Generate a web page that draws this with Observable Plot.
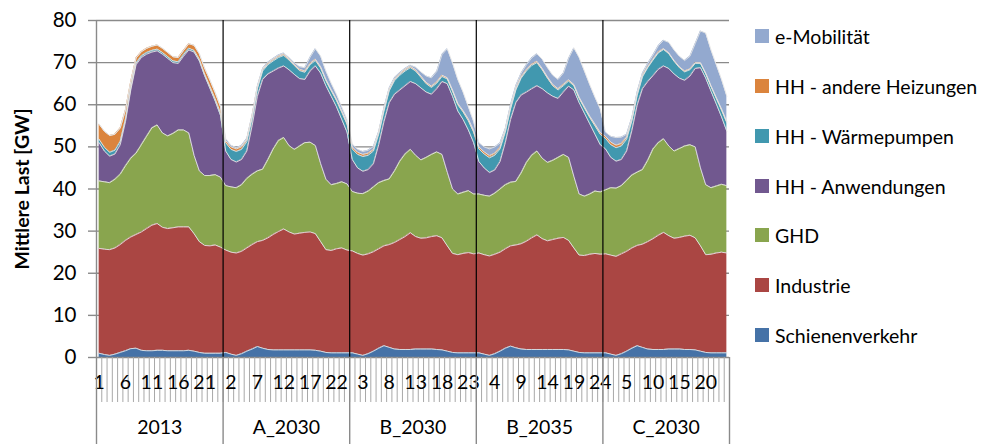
<!DOCTYPE html>
<html><head><meta charset="utf-8">
<script src="https://cdn.jsdelivr.net/npm/d3@7"></script>
<script src="https://cdn.jsdelivr.net/npm/@observablehq/plot@0.6"></script>
<style>
body{margin:0;background:#fff;}
#wrap{position:relative;width:996px;height:444px;font-family:Lato,"Open Sans",sans-serif;}
#legend{position:absolute;left:755px;top:0;width:241px;height:444px;}
.item{position:absolute;left:0;display:flex;align-items:center;font-size:19.5px;white-space:nowrap;color:#000;height:20px;}
.sw{width:14px;height:14px;margin-right:6px;flex:none;}
</style></head><body>
<div id="wrap"><div id="chart"></div><div id="legend"></div></div>
<script>
// Categories
const scenarios = ["2013", "A_2030", "B_2030", "B_2035", "C_2030"];
const hours = [1,2,3,4,5,6,7,8,9,10,11,12,13,14,15,16,17,18,19,20,21,22,23,24];
const seriesNames = ["Schienenverkehr", "Industrie", "GHD", "HH - Anwendungen", "HH - Wärmepumpen", "HH - andere Heizungen", "e-Mobilität"];
const seriesColors = ["#4572A7", "#AA4643", "#89A54E", "#71588F", "#4198AF", "#DB843D", "#93A9CF"];
const legendOrder = ["e-Mobilität", "HH - andere Heizungen", "HH - Wärmepumpen", "HH - Anwendungen", "GHD", "Industrie", "Schienenverkehr"];

// Tick labels (category index -> shown hour)
const xTickIndex = [1,6,11,16,21, 26,31,36,41,46, 51,56,61,66,71, 76,81,86,91,96, 101,106,111,116];
const xTickLabels = ["1","6","11","16","21", "2","7","12","17","22", "3","8","13","18","23", "4","9","14","19","24", "5","10","15","20"];
const yTicks = [0,10,20,30,40,50,60,70,80];

// Series values [GW], 24 hours per scenario: 2013 | A_2030 | B_2030 | B_2035 | C_2030
const schienen = [
 1.0,0.7,0.5,0.8,1.2,1.6,2.1,2.2,1.7,1.6,1.6,1.7,1.7,1.6,1.6,1.6,1.6,1.7,1.5,1.2,1.0,1.0,1.0,1.0,
 1.2,0.8,0.5,0.9,1.5,2.0,2.6,2.2,1.9,1.8,1.8,1.8,1.8,1.8,1.8,1.8,1.8,1.7,1.5,1.2,1.1,1.1,1.1,1.1,
 1.1,0.8,0.5,0.9,1.5,2.2,2.8,2.4,2.0,1.9,1.9,1.9,2.0,2.0,2.0,2.0,1.9,1.8,1.5,1.2,1.1,1.1,1.1,1.1,
 1.1,0.8,0.5,0.9,1.5,2.2,2.7,2.3,2.0,1.9,1.9,1.9,1.9,1.9,1.9,1.9,1.9,1.8,1.5,1.2,1.1,1.1,1.1,1.1,
 1.1,0.8,0.5,0.9,1.5,2.2,2.8,2.4,2.0,1.9,1.9,1.9,2.0,2.0,2.0,1.9,1.9,1.8,1.5,1.2,1.1,1.1,1.1,1.1
];
const industrie = [
 24.9,25.0,25.1,25.2,25.6,26.2,26.5,27.0,28.1,29.0,29.8,30.1,29.2,29.0,29.2,29.4,29.4,29.3,27.9,26.3,25.6,25.5,25.7,25.2,
 24.3,24.2,24.3,24.3,24.5,24.8,24.9,25.6,26.5,27.4,28.1,28.7,28.0,27.5,27.7,27.9,28.0,27.7,26.0,24.4,24.3,24.7,24.9,24.4,
 24.2,23.9,23.8,23.7,23.6,23.6,23.7,24.4,25.3,26.1,26.8,27.7,26.7,26.3,26.4,26.7,27.0,26.6,25.0,23.5,23.3,23.6,23.8,23.5,
 23.7,23.6,23.6,23.6,23.5,23.6,23.8,24.4,25.0,25.7,26.5,27.2,26.3,25.8,26.1,26.4,26.6,26.0,24.5,23.1,23.1,23.4,23.6,23.4,
 23.5,23.5,23.5,23.7,23.7,23.8,23.8,24.5,25.5,26.3,27.1,27.8,26.9,26.3,26.5,26.9,27.1,26.6,25.0,23.2,23.4,23.7,23.9,23.7
];
const ghd = [
 16.0,16.0,15.9,16.3,16.7,17.7,18.7,19.3,20.7,21.9,23.1,23.4,22.4,22.0,22.4,23.0,23.0,22.3,18.6,16.8,16.6,16.7,16.7,16.6,
 15.3,15.5,15.5,15.8,16.5,16.7,16.8,16.9,18.6,20.3,21.6,21.7,20.5,20.1,20.7,21.3,21.3,20.9,18.5,16.7,15.6,15.5,15.7,15.7,
 14.1,14.3,14.6,14.9,15.4,15.7,15.5,15.6,17.0,18.6,19.6,19.8,19.3,18.6,19.1,19.5,19.9,19.8,17.5,15.3,14.4,14.5,14.7,14.2,
 14.0,14.1,14.2,14.5,15.0,15.2,15.1,15.1,16.8,18.7,19.6,19.9,19.1,18.6,18.8,19.2,19.7,19.7,17.0,14.5,14.1,14.3,14.8,14.8,
 15.2,16.0,16.2,16.2,16.8,17.3,17.4,17.7,19.3,21.3,22.0,22.2,21.3,20.7,21.1,21.4,21.5,21.6,18.5,16.6,15.8,15.9,16.1,16.0
];
const hhAnwendungen = [
 9.1,7.3,6.3,6.0,7.0,10.5,16.2,21.0,20.7,19.5,18.0,17.6,18.7,18.4,16.8,15.8,17.5,19.7,24.5,26.1,23.7,20.7,17.5,14.7,
 8.2,6.5,6.1,6.0,6.5,11.5,17.7,21.3,20.3,18.5,17.2,17.0,18.0,17.8,16.0,15.0,16.9,18.9,21.5,22.2,21.0,18.2,14.8,12.3,
 7.6,6.0,5.3,5.1,5.5,9.0,14.0,18.1,18.2,16.9,16.2,16.1,17.0,17.1,15.5,14.3,15.0,17.3,21.0,22.0,19.7,17.3,14.4,12.2,
 7.7,6.5,5.6,5.5,6.5,10.0,14.9,18.7,18.5,16.7,15.8,15.5,16.5,16.5,15.2,14.0,14.8,16.9,20.5,21.7,19.7,16.7,13.5,11.2,
 9.7,7.2,6.4,6.2,7.0,10.6,15.9,19.2,18.7,17.4,17.4,17.3,18.4,18.3,16.7,15.6,16.3,18.6,23.8,25.3,22.9,19.5,16.0,12.9
];
const hhWaermepumpen = [
 0.8,0.9,0.9,0.9,0.8,0.6,0.5,0.4,0.4,0.4,0.4,0.4,0.4,0.4,0.4,0.4,0.4,0.4,0.4,0.4,0.4,0.5,0.5,0.6,
 2.0,2.4,2.5,2.4,2.2,1.8,1.8,2.0,2.2,2.4,2.5,2.5,2.3,2.1,1.9,1.7,1.5,1.3,1.2,1.2,1.3,1.5,1.7,1.9,
 2.5,3.2,3.5,3.4,3.0,2.5,2.5,2.8,3.2,3.5,3.5,3.3,3.0,2.5,2.0,1.6,1.3,1.2,1.1,1.2,1.5,1.8,2.2,2.5,
 3.0,3.3,3.5,3.5,3.0,2.5,2.5,3.0,4.0,5.0,5.5,5.5,4.5,3.5,2.5,2.0,1.5,1.2,1.0,1.0,1.2,1.5,2.0,2.5,
 2.5,3.0,3.2,3.2,2.8,2.3,2.3,2.8,3.3,3.7,3.9,3.9,3.5,3.0,2.5,2.0,1.5,1.2,1.0,1.0,1.1,1.3,1.6,2.0
];
const hhAndereHeizungen = [
 3.6,3.8,4.0,3.8,3.2,2.2,1.5,1.2,1.0,1.0,1.0,1.0,1.0,1.0,1.0,1.0,1.0,1.1,1.2,1.3,1.4,1.5,1.5,1.5,
 0.5,0.6,0.6,0.6,0.5,0.4,0.3,0.3,0.3,0.3,0.3,0.3,0.3,0.3,0.3,0.3,0.3,0.3,0.3,0.3,0.3,0.3,0.4,0.4,
 0.5,0.5,0.5,0.5,0.4,0.3,0.3,0.3,0.3,0.3,0.3,0.3,0.3,0.3,0.3,0.3,0.3,0.3,0.3,0.3,0.3,0.3,0.4,0.4,
 0.5,0.5,0.5,0.5,0.4,0.3,0.3,0.3,0.3,0.3,0.3,0.3,0.3,0.3,0.3,0.3,0.3,0.3,0.3,0.3,0.3,0.3,0.4,0.4,
 0.5,0.6,0.6,0.6,0.5,0.3,0.3,0.3,0.2,0.2,0.2,0.2,0.2,0.2,0.2,0.2,0.2,0.2,0.2,0.2,0.2,0.2,0.3,0.3
];
const eMobilitaet = [
 0,0,0,0,0,0,0,0,0,0,0,0,0,0,0,0,0,0,0,0,0,0,0,0,
 0.5,0.4,0.3,0.3,0.3,0.3,0.3,0.3,0.3,0.3,0.3,0.3,0.3,0.4,0.6,0.8,1.5,2.5,2.5,2.0,1.5,1.2,0.9,0.7,
 0.7,0.7,0.7,0.7,0.7,0.3,0.5,0.4,0.4,0.3,0.3,0.3,0.6,1.0,1.5,2.0,2.5,4.9,6.9,6.4,5.7,4.4,2.9,2.1,
 1.0,1.2,1.6,1.5,1.0,0.5,0.7,0.7,0.9,1.2,1.5,1.8,2.2,2.2,2.2,2.2,2.7,5.1,8.7,9.4,8.5,7.5,6.4,5.6,
 1.0,1.4,1.8,1.5,0.7,0.5,0.5,0.6,0.8,1.0,1.5,2.0,2.5,2.5,2.5,2.5,3.0,4.5,7.5,9.5,8.5,7.8,7.0,6.0
];

const seriesValues = [schienen, industrie, ghd, hhAnwendungen, hhWaermepumpen, hhAndereHeizungen, eMobilitaet];

// Long table: one row per (scenario, hour, series); idx = category position 1..120
const rows = [];
seriesValues.forEach((vals, k) => {
  scenarios.forEach((sc, s) => {
    hours.forEach((h, j) => {
      const i = s * hours.length + j;
      rows.push({idx: i + 1, scenario: sc, hour: h, series: seriesNames[k], value: vals[i]});
    });
  });
});

const nCat = scenarios.length * hours.length;
const catBounds = d3.range(0, nCat + 1).map(i => i + 0.5);
const groupBounds = scenarios.map((s, i) => i * hours.length + 0.5).concat([nCat + 0.5]);
const innerDividers = groupBounds.slice(1, -1);
const groupCenters = scenarios.map((s, i) => i * hours.length + hours.length / 2 + 0.5);
const tickLabelByIdx = new Map(xTickIndex.map((d, i) => [d, xTickLabels[i]]));

const chart = Plot.plot({
  width: 996,
  height: 444,
  marginLeft: 96,
  marginRight: 267,
  marginTop: 20,
  marginBottom: 87,
  style: {fontFamily: "Lato, 'Open Sans', sans-serif", fontSize: "19.5px", color: "#000", background: "#fff", overflow: "visible"},
  x: {domain: [0.5, nCat + 0.5], axis: null},
  y: {domain: [0, 80], axis: null},
  color: {domain: seriesNames, range: seriesColors},
  marks: [
    Plot.ruleY(yTicks.filter(d => d > 0), {stroke: "#8a8a8a", strokeWidth: 1.4}),
    Plot.areaY(rows, Plot.stackY({order: seriesNames}, {x: "idx", y: "value", z: "series", fill: "series", curve: "linear"})),
    Plot.lineY(rows, Plot.stackY2({order: seriesNames}, {x: "idx", y: "value", z: "series", stroke: "#e4e4e4", strokeWidth: 0.9, curve: "linear"})),
    Plot.ruleX(innerDividers, {stroke: "#000", strokeWidth: 1.2}),
    Plot.ruleX([0.5], {stroke: "#8a8a8a", strokeWidth: 1.4}),
    Plot.ruleY([0], {stroke: "#8a8a8a", strokeWidth: 1.4}),
    // y axis
    Plot.axisY({ticks: yTicks, tickSize: 8, tickPadding: 12, stroke: "#8a8a8a", strokeWidth: 1.4, fontSize: 20.5, label: null}),
    Plot.text(["Mittlere Last [GW]"], {frameAnchor: "left", textAnchor: "middle", dx: -74, rotate: -90, fontWeight: "bold", fontSize: 19.5}),
    // category tick marks
    Plot.axisX({ticks: catBounds, tickSize: 45, tickFormat: () => "", stroke: "#a8a8a8", strokeWidth: 1, label: null}),
    // hour labels
    Plot.axisX({ticks: xTickIndex, tickSize: 0, tickPadding: 18, tickFormat: d => tickLabelByIdx.get(d), fontSize: 19.5, label: null}),
    // scenario group separators and labels
    Plot.axisX({ticks: groupBounds, tickSize: 87, tickFormat: () => "", stroke: "#8a8a8a", strokeWidth: 1.4, label: null}),
    Plot.text(scenarios, {x: groupCenters, frameAnchor: "bottom", dy: 76, fontSize: 19.5})
  ]
});
document.getElementById("chart").appendChild(chart);

// Legend
const legend = document.getElementById("legend");
const legendTops = [36, 86, 136, 186, 235, 285, 335];
legendOrder.forEach((name, i) => {
  const k = seriesNames.indexOf(name);
  const item = document.createElement("div");
  item.className = "item";
  item.style.top = (legendTops[i] - 10) + "px";
  const sw = document.createElement("span");
  sw.className = "sw";
  sw.style.background = seriesColors[k];
  const tx = document.createElement("span");
  tx.textContent = name;
  item.appendChild(sw);
  item.appendChild(tx);
  legend.appendChild(item);
});
</script>
</body></html>
